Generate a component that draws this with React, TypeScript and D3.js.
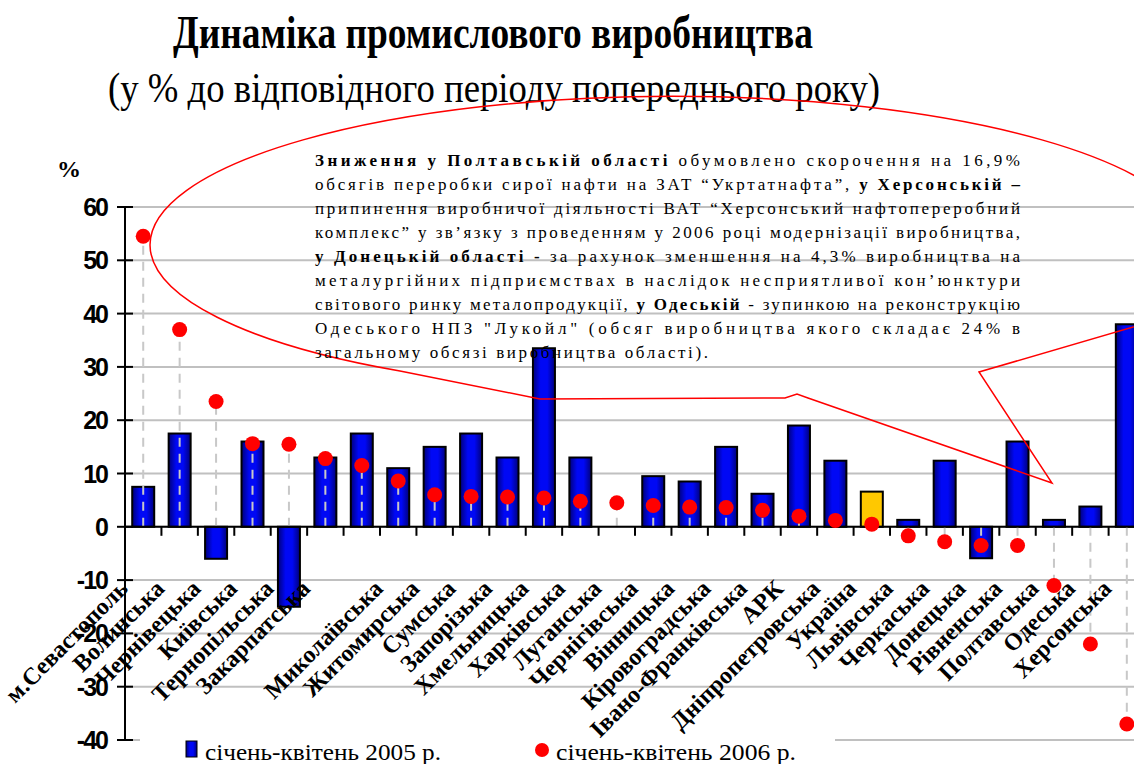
import React from "react";
import * as d3 from "d3";

// regions sorted as in the source chart (one label is hidden in the original)
const regions = [
  "м.Севастополь", "Волинська", "Чернівецька", "Київська", "Тернопільська",
  "Закарпатська", "", "Миколаївська", "Житомирська", "Сумська", "Запорізька",
  "Хмельницька", "Харківська", "Луганська", "Чернігівська", "Вінницька",
  "Кіровоградська", "Івано-Франківська", "АРК", "Дніпропетровська", "Україна",
  "Львівська", "Черкаська", "Донецька", "Рівненська", "Полтавська", "Одеська",
  "Херсонська",
];
// січень-квітень 2005 р. (bars)
const values2005: (number | null)[] = [
  7.5, 17.5, -6, 16, -15, 13, 17.5, 11, 15, 17.5, 13, 33.5, 13, null, 9.5, 8.5,
  15, 6.2, 19, 12.4, 6.6, 1.3, 12.4, -5.9, 16, 1.3, 3.8, 38,
];
// січень-квітень 2006 р. (dots)
const values2006 = [
  54.5, 37, 23.5, 15.6, 15.5, 12.8, 11.5, 8.6, 6, 5.7, 5.6, 5.4, 4.8, 4.5, 4,
  3.7, 3.6, 3.1, 2, 1.2, 0.5, -1.7, -2.8, -3.5, -3.5, -11, -22, -37,
];
const highlight = "Україна";
const yTicks = [60, 50, 40, 30, 20, 10, 0, -10, -20, -30, -40];

const title = "Динаміка промислового виробництва";
const subtitle = "(у % до відповідного періоду попереднього року)";
const legendLabels = ["січень-квітень 2005 р.", "січень-квітень 2006 р."];

// callout lines: [text, bold] pieces
const noteLines: [string, boolean][][] = [
  [["Зниження у Полтавській області", true], [" обумовлено скорочення на 16,9%", false]],
  [["обсягів переробки сирої нафти на ЗАТ “Укртатнафта”, ", false], ["у Херсонській –", true]],
  [["припинення виробничої діяльності ВАТ “Херсонський нафтопереробний", false]],
  [["комплекс” у зв’язку з проведенням у 2006 році модернізації виробництва,", false]],
  [["у Донецькій області -", true], ["   за рахунок  зменшення на 4,3% виробництва на", false]],
  [["металургійних підприємствах в наслідок несприятливої кон’юнктури", false]],
  [["світового ринку металопродукції, ", false], ["у Одеській", true], [" - зупинкою на реконструкцію", false]],
  [["Одеського НПЗ \"Лукойл\" (обсяг виробництва якого складає 24% в", false]],
  [["загальному обсязі виробництва області).", false]],
];

const W = 1134;
const H = 764;
const plot = { left: 125, top: 207, bottom: 740, right: 1134 };
const step = 36.43;

export default function App() {
  const idx = regions.map((_, i) => String(i));
  const x = d3
    .scaleBand()
    .domain(idx)
    .range([plot.left, plot.left + step * regions.length])
    .paddingInner(0)
    .paddingOuter(0);
  const y = d3.scaleLinear().domain([-40, 60]).range([plot.bottom, plot.top]);
  const barW = 22;
  const cx = (i: number) => (x(String(i)) as number) + x.bandwidth() / 2;

  // callout outline (ellipse with a flattened bottom and a pointer)
  const callout =
    "M 150 245 A 520 148 0 0 0 400 371 L 540 399 L 785 398 L 797 394 L 808 398 " +
    "L 1052 483 L 979 372 L 1195 309 L 1195 245 A 520 148 0 0 0 150 245 Z";

  const serif = "'Liberation Serif', 'Times New Roman', serif";
  const sans = "'Liberation Sans', Arial, sans-serif";

  return (
    <svg
      width={W}
      height={H}
      style={{ position: "absolute", left: 0, top: 0, background: "#fff" }}
    >
      <defs>
        <linearGradient id="blueBar" x1="0" x2="1" y1="0" y2="0">
          <stop offset="0" stopColor="#00007a" />
          <stop offset="0.35" stopColor="#0008f5" />
          <stop offset="0.65" stopColor="#0008f5" />
          <stop offset="1" stopColor="#00007a" />
        </linearGradient>
      </defs>

      <text x={173} y={48} fontFamily={serif} fontWeight="bold" fontSize={46}
        textLength={640} lengthAdjust="spacingAndGlyphs">{title}</text>
      <text x={108} y={102} fontFamily={serif} fontSize={42}
        textLength={772} lengthAdjust="spacingAndGlyphs">{subtitle}</text>

      {/* grid */}
      {yTicks.map((t) => (
        <line key={"g" + t} x1={plot.left} x2={plot.right} y1={y(t)} y2={y(t)}
          stroke="#c0c0c0" strokeWidth={2} />
      ))}

      {/* bars */}
      {values2005.map((v, i) =>
        v == null ? null : (
          <rect key={"b" + i} x={cx(i) - barW / 2} width={barW}
            y={y(Math.max(0, v))} height={Math.abs(y(v) - y(0))}
            fill={regions[i] === highlight ? "#ffc800" : "url(#blueBar)"}
            stroke="#000" strokeWidth={2} />
        )
      )}

      {/* drop lines */}
      {values2006.map((v, i) => (
        <line key={"d" + i} x1={cx(i)} x2={cx(i)} y1={y(0)} y2={y(v)}
          stroke="#c8c8c8" strokeWidth={2} strokeDasharray="9 7" />
      ))}

      {/* axes */}
      <line x1={plot.left} x2={plot.left} y1={plot.top} y2={plot.bottom} stroke="#000" strokeWidth={2} />
      {yTicks.map((t) => (
        <g key={"t" + t}>
          <line x1={plot.left - 8} x2={plot.left + 8} y1={y(t)} y2={y(t)} stroke="#000" strokeWidth={2} />
          <text x={107} y={y(t) + 9} textAnchor="end" fontFamily={sans} fontWeight="bold"
            fontSize={25} letterSpacing={-2}>{t}</text>
        </g>
      ))}
      <line x1={plot.left} x2={plot.right} y1={y(0)} y2={y(0)} stroke="#000" strokeWidth={2} />
      {regions.map((_, i) => (
        <line key={"xt" + i} x1={(x(String(i)) as number) + step} x2={(x(String(i)) as number) + step}
          y1={y(0)} y2={y(0) + 9} stroke="#000" strokeWidth={2} />
      ))}

      {/* dots */}
      {values2006.map((v, i) => (
        <circle key={"c" + i} cx={cx(i)} cy={y(v)} r={7.5} fill="#ff0000" />
      ))}

      <text x={57} y={177} fontFamily={serif} fontWeight="bold" fontSize={24}>%</text>

      {/* legend */}
      <rect x={140} y={730} width={695} height={34} fill="#fff" />
      <rect x={186} y={741} width={11} height={16} fill="url(#blueBar)" stroke="#000" strokeWidth={1} />
      <text x={205} y={760} fontFamily={serif} fontSize={23} textLength={236}
        lengthAdjust="spacingAndGlyphs">{legendLabels[0]}</text>
      <circle cx={542} cy={750} r={7} fill="#ff0000" />
      <text x={556} y={760} fontFamily={serif} fontSize={23} textLength={240}
        lengthAdjust="spacingAndGlyphs">{legendLabels[1]}</text>

      {/* category labels */}
      {regions.map((r, i) => (
        <text key={"l" + i} transform={`translate(${cx(i) - 14},${590}) rotate(-45)`}
          textAnchor="end" fontFamily={serif} fontWeight="bold" fontSize={24}>{r}</text>
      ))}

      {/* callout */}
      <path d={callout} fill="none" stroke="#ff0000" strokeWidth={1.5} />
      {noteLines.map((line, li) => (
        <text key={"n" + li} x={315} y={166 + li * 24} fontFamily={serif} fontSize={17}
          textLength={li < noteLines.length - 1 ? 705 : 393}
          lengthAdjust="spacing">
          {line.map(([s, b], k) => (
            <tspan key={k} fontWeight={b ? "bold" : "normal"}>{s}</tspan>
          ))}
        </text>
      ))}
    </svg>
  );
}
